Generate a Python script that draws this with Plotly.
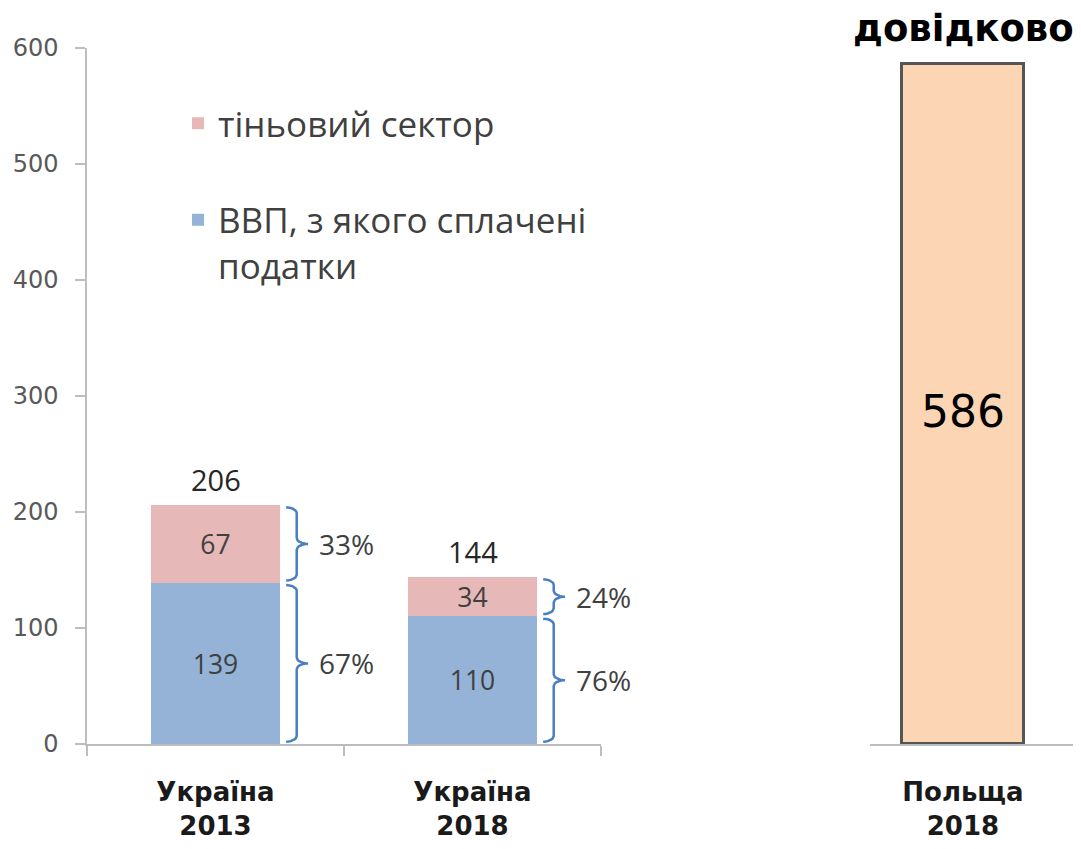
import numpy as np
import plotly.graph_objects as go

# ---- data ----
categories = ["Україна<br>2013", "Україна<br>2018"]
paid_gdp = [139, 110]          # ВВП, з якого сплачені податки
shadow = [67, 34]              # тіньовий сектор
totals = [206, 144]
poland_label = ["Польща<br>2018"]
poland_value = [586]
y_ticks = [0, 100, 200, 300, 400, 500, 600]

# page body has an 8px margin -> figure sized/positioned to compensate
OFF = 8
W, H = 1081 - OFF, 849 - OFF
BLUE = "#95B3D7"
PINK = "#E6B9B8"
PEACH = "#FCD5B4"
BRACE = "#4A7EC2"
AXIS = "#BDBDBD"
TXT = "#404040"


def px_x(p):
    return (p - OFF) / W


def px_y(p):
    return (H - (p - OFF)) / H


y_dom = [px_y(744), px_y(48)]
x_dom = [px_x(87), px_x(601)]
x2_dom = [px_x(870), 1.0]

fig = go.Figure()
xs = list(range(len(categories)))

fig.add_trace(go.Bar(
    x=xs, y=paid_gdp, name="ВВП, з якого сплачені<br>податки",
    marker=dict(color=BLUE, line=dict(width=0)), width=0.5,
    text=paid_gdp, textposition="inside", insidetextanchor="middle",
    textfont=dict(family="Open Sans", size=26.5, color=TXT),
    constraintext="none", textangle=0,
    legendgroup="b", legendrank=2, hoverinfo="skip",
))
fig.add_trace(go.Bar(
    x=xs, y=shadow, name="тіньовий сектор",
    marker=dict(color=PINK, line=dict(width=0)), width=0.5,
    text=shadow, textposition="inside", insidetextanchor="middle",
    textfont=dict(family="Open Sans", size=26.5, color=TXT),
    constraintext="none", textangle=0,
    legendgroup="a", legendrank=1, hoverinfo="skip",
))


def brace_points(xr, y0, y1):
    """Curly brace to the right of a segment [y0, y1] starting at x=xr."""
    xh = xr + 0.025
    xv = xr + 0.066
    xt = xr + 0.11
    ry = 5.0
    mid = (y0 + y1) / 2
    px, py = [], []
    a = np.linspace(np.pi / 2, 0, 8)
    px += list(xh + (xv - xh) * np.cos(a)); py += list(y1 - ry + ry * np.sin(a))
    a = np.linspace(np.pi, 3 * np.pi / 2, 8)
    px += list(xt + (xt - xv) * np.cos(a)); py += list(mid + ry + ry * np.sin(a))
    a = np.linspace(np.pi / 2, np.pi, 8)
    px += list(xt + (xt - xv) * np.cos(a)); py += list(mid - ry + ry * np.sin(a))
    a = np.linspace(0, -np.pi / 2, 8)
    px += list(xh + (xv - xh) * np.cos(a)); py += list(y0 + ry + ry * np.sin(a))
    return px, py


for i in xs:
    xr = i + 0.25
    segs = [(0, paid_gdp[i]), (paid_gdp[i], totals[i])]
    vals = [paid_gdp[i], shadow[i]]
    for (lo, hi), v in zip(segs, vals):
        bx, by = brace_points(xr, lo + 2, hi - 2)
        fig.add_trace(go.Scatter(x=bx, y=by, mode="lines",
                                 line=dict(color=BRACE, width=2.5),
                                 showlegend=False, hoverinfo="skip"))
        fig.add_annotation(x=xr + 0.144, y=(lo + hi) / 2, xref="x", yref="y",
                           text=f"{round(100 * v / totals[i])}%", showarrow=False,
                           xanchor="left", yanchor="middle",
                           font=dict(family="Open Sans", size=28, color=TXT))
    fig.add_annotation(x=i, y=totals[i], xref="x", yref="y", text=str(totals[i]),
                       showarrow=False, yanchor="bottom", yshift=4,
                       font=dict(family="Open Sans", size=29, color="#262626"))

# Poland reference bar
fig.add_trace(go.Bar(
    x=[0], y=poland_value, xaxis="x2", yaxis="y2", width=0.93,
    marker=dict(color=PEACH, line=dict(color="#555555", width=3)),
    showlegend=False, hoverinfo="skip",
))
fig.add_annotation(x=0, y=poland_value[0] / 2, xref="x2", yref="y2",
                   text=str(poland_value[0]), showarrow=False, yshift=-7,
                   font=dict(family="DejaVu Sans", size=44, color="black"))

fig.add_annotation(x=px_x(963), y=px_y(29), xref="paper", yref="paper",
                   text="<b>довідково</b>", showarrow=False,
                   xanchor="center", yanchor="middle",
                   font=dict(family="DejaVu Sans", size=37, color="black"))

fig.update_layout(
    width=W, height=H, margin=dict(l=0, r=0, t=0, b=0),
    paper_bgcolor="white", plot_bgcolor="white",
    barmode="stack", bargap=0,
    showlegend=True,
    legend=dict(x=px_x(178), y=px_y(94), xanchor="left", yanchor="top",
                font=dict(family="Open Sans", size=35, color=TXT),
                traceorder="grouped", tracegroupgap=48, valign="top",
                bgcolor="rgba(0,0,0,0)"),
    xaxis=dict(domain=x_dom, range=[-0.5, 1.5], anchor="y", automargin=False,
               tickvals=xs, ticktext=categories, ticks="",
               showline=True, linecolor=AXIS, linewidth=1.5,
               showgrid=False, zeroline=False, ticklabelstandoff=24,
               minor=dict(tickvals=[-0.5, 0.5, 1.5], ticks="outside",
                          ticklen=10, tickcolor=AXIS, tickwidth=1.5, showgrid=False),
               tickfont=dict(family="DejaVu Sans", size=26, color="#1a1a1a", weight="bold")),
    yaxis=dict(domain=y_dom, range=[0, 600], anchor="x", automargin=False,
               tickvals=y_ticks, ticks="outside", ticklen=10, tickcolor=AXIS, tickwidth=1.5,
               showline=True, linecolor=AXIS, linewidth=1.5,
               showgrid=False, zeroline=False, ticklabelstandoff=12,
               tickfont=dict(family="DejaVu Sans", size=24, color="#595959")),
    xaxis2=dict(domain=x2_dom, range=[-0.705, 0.895], anchor="y2", automargin=False,
                tickvals=[0], ticktext=poland_label, ticks="",
                showline=True, linecolor=AXIS, linewidth=1.5, layer="below traces",
                showgrid=False, zeroline=False, ticklabelstandoff=24,
                tickfont=dict(family="DejaVu Sans", size=26, color="#1a1a1a", weight="bold")),
    yaxis2=dict(domain=y_dom, range=[0, 600], anchor="x2", visible=False, automargin=False),
)

fig.write_html("out.html")
